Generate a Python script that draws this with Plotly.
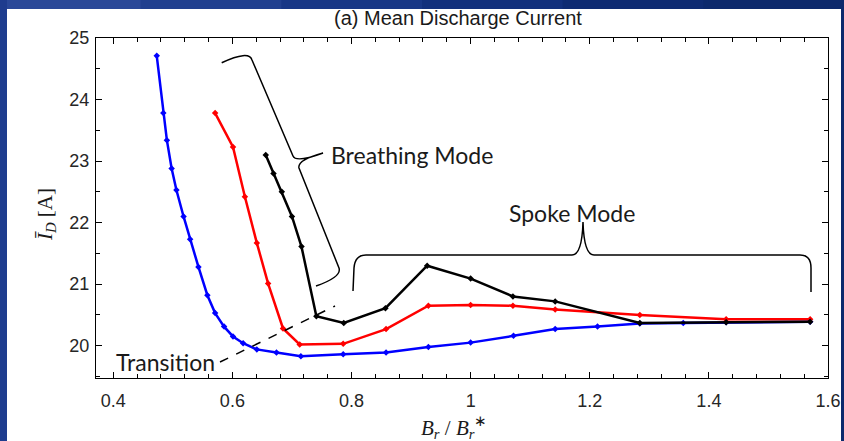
import plotly.graph_objects as go

# ---- measured mean discharge current vs. normalised radial field ----
blue_x = [0.473, 0.484, 0.490, 0.498, 0.506, 0.518, 0.529, 0.543, 0.558, 0.571, 0.586,
          0.601, 0.618, 0.641, 0.674, 0.715, 0.786, 0.858, 0.929, 1.000, 1.072, 1.142,
          1.213, 1.284, 1.357, 1.429, 1.570]
blue_y = [24.71, 23.78, 23.34, 22.88, 22.53, 22.10, 21.73, 21.28, 20.82, 20.53, 20.31,
          20.15, 20.04, 19.94, 19.89, 19.83, 19.86, 19.89, 19.98, 20.05, 20.16, 20.27,
          20.31, 20.36, 20.37, 20.38, 20.39]

red_x = [0.571, 0.601, 0.621, 0.641, 0.660, 0.685, 0.713, 0.786, 0.858, 0.929, 1.000,
         1.071, 1.142, 1.284, 1.429, 1.570]
red_y = [23.78, 23.23, 22.42, 21.67, 21.01, 20.28, 20.02, 20.03, 20.27, 20.65, 20.66,
         20.65, 20.59, 20.50, 20.43, 20.43]

black_x = [0.656, 0.669, 0.683, 0.700, 0.716, 0.741, 0.787, 0.857, 0.927, 1.000, 1.071,
           1.142, 1.284, 1.429, 1.570]
black_y = [23.10, 22.80, 22.50, 22.10, 21.61, 20.48, 20.37, 20.61, 21.30, 21.09, 20.80,
           20.72, 20.37, 20.38, 20.39]

x_ticks = [0.4, 0.6, 0.8, 1.0, 1.2, 1.4, 1.6]
x_tick_text = ["0.4", "0.6", "0.8", "1", "1.2", "1.4", "1.6"]
y_ticks = [20, 21, 22, 23, 24, 25]

X_RANGE = [0.371, 1.6]
Y_RANGE = [19.475, 25.0]

W, H = 844, 441
ML, MR, MT, MB = 96, 16, 38, 63
PW, PH = W - ML - MR, H - MT - MB


def to_data(px, py):
    """Canvas pixel -> data coordinates (for overlay drawings)."""
    x = X_RANGE[0] + (px - ML) / PW * (X_RANGE[1] - X_RANGE[0])
    y = Y_RANGE[1] - (py - MT) / PH * (Y_RANGE[1] - Y_RANGE[0])
    return x, y


def to_paper(px, py):
    return (px - ML) / PW, (H - MB - py) / PH


def path_from(cmds):
    out = []
    for c in cmds:
        letter, pts = c[0], c[1:]
        coords = " ".join("%.5f,%.5f" % to_data(*p) for p in pts)
        out.append(letter + " " + coords)
    return " ".join(out)


fig = go.Figure()

series = [(blue_x, blue_y, "#0000ff"), (red_x, red_y, "#ff0000"), (black_x, black_y, "#000000")]
for xs, ys, col in series:
    fig.add_trace(go.Scatter(
        x=xs, y=ys, mode="lines+markers",
        line=dict(color=col, width=2.5),
        marker=dict(symbol="diamond", size=5, color=col),
        showlegend=False, hoverinfo="skip",
    ))

shapes = []

# dark blue frame (top band, left and right edges)
frame_cols = ["#2a4898", "#21408f", "#183786", "#12307c", "#0e2b72", "#0c296c"]
n = len(frame_cols)
for i, c in enumerate(frame_cols):
    x0, _ = to_paper(W * i / n, 0)
    x1, _ = to_paper(W * (i + 1) / n + 1, 0)
    _, yt = to_paper(0, 0)
    _, yb = to_paper(0, 9)
    shapes.append(dict(type="rect", xref="paper", yref="paper", x0=x0, x1=x1, y0=yb, y1=yt,
                       fillcolor=c, line=dict(width=0), layer="below"))
lx0, ly0 = to_paper(0, H)
lx1, ly1 = to_paper(7, 0)
shapes.append(dict(type="rect", xref="paper", yref="paper", x0=lx0, x1=lx1, y0=ly0, y1=ly1,
                   fillcolor="#1e3c8e", line=dict(width=0), layer="below"))
rx0, _ = to_paper(W - 3, 0)
rx1, _ = to_paper(W + 1, 0)
shapes.append(dict(type="rect", xref="paper", yref="paper", x0=rx0, x1=rx1, y0=ly0, y1=ly1,
                   fillcolor="#0c296c", line=dict(width=0), layer="below"))

# curly brace marking the breathing-mode branch
breathing = path_from([
    ("M", (221.7, 62.7)),
    ("Q", (249, 50), (252, 60)),
    ("L", (293, 156)),
    ("Q", (296, 163), (323, 153)),
    ("Q", (297, 160), (299, 168)),
    ("L", (339, 268)),
    ("Q", (342, 277), (316, 286)),
])
shapes.append(dict(type="path", path=breathing, xref="x", yref="y",
                   line=dict(color="black", width=1.5)))

# curly brace spanning the spoke-mode region
spoke = path_from([
    ("M", (353, 291)),
    ("L", (354, 268)),
    ("Q", (355, 255), (366, 255)),
    ("L", (572, 255)),
    ("Q", (582, 255), (583, 222)),
    ("Q", (584, 255), (594, 255)),
    ("L", (800, 255)),
    ("Q", (811, 255), (811, 268)),
    ("L", (811, 292)),
])
shapes.append(dict(type="path", path=spoke, xref="x", yref="y",
                   line=dict(color="black", width=1.5)))

# dashed transition line
tx0, ty0 = to_data(220, 362)
tx1, ty1 = to_data(335, 306)
shapes.append(dict(type="line", xref="x", yref="y", x0=tx0, y0=ty0, x1=tx1, y1=ty1,
                   line=dict(color="black", width=1.5, dash="dash")))

annotations = []


def label(text, px, py, size, family, color="#1a1a1a", angle=0, anchor="center"):
    ax, ay = to_paper(px, py)
    annotations.append(dict(text=text, xref="paper", yref="paper", x=ax, y=ay,
                            xanchor=anchor, yanchor="middle", showarrow=False,
                            textangle=angle, font=dict(size=size, family=family, color=color)))


label("(a) Mean Discharge Current", 458, 18, 20, "Liberation Sans")
label("Breathing Mode", 329, 155, 23, "Lato", anchor="left")
label("Spoke Mode", 572, 213, 23, "Lato")
label("Transition", 114, 362, 23, "Lato", anchor="left")
label("<i>Ī<sub>D</sub></i> [A]", 46, 214, 21, "Liberation Serif", angle=-90)
label("<i>B<sub>r</sub></i> / <i>B</i><sub><i>r</i></sub><sup>∗</sup>", 454, 427, 21,
      "Liberation Serif")

axis_common = dict(
    showline=True, linecolor="black", linewidth=1.2, mirror="allticks",
    ticks="inside", ticklen=6, tickcolor="black", tickwidth=1.2,
    showgrid=False, zeroline=False, automargin=False,
    tickfont=dict(family="Liberation Sans", size=18, color="#262626"),
)

fig.update_layout(
    width=W, height=H,
    margin=dict(l=ML, r=MR, t=MT, b=MB, pad=0, autoexpand=False),
    paper_bgcolor="white", plot_bgcolor="white",
    xaxis=dict(range=X_RANGE, tickvals=x_ticks, ticktext=x_tick_text, ticklabelstandoff=6,
               minor=dict(dtick=0.04, tick0=0.4, ticks="inside", ticklen=4, tickcolor="black", tickwidth=1.2),
               **axis_common),
    yaxis=dict(range=Y_RANGE, tickvals=y_ticks, ticklabelstandoff=2,
               minor=dict(dtick=0.5, tick0=20, ticks="inside", ticklen=4, tickcolor="black", tickwidth=1.2),
               **axis_common),
    shapes=shapes,
    annotations=annotations,
)

fig.write_html("out.html")
